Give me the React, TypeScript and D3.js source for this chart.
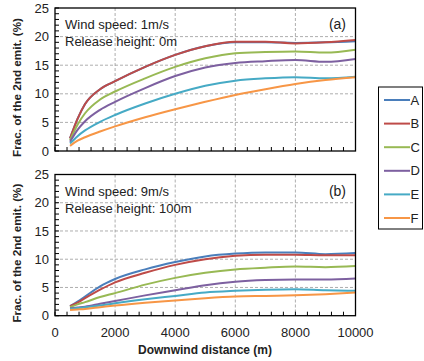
import React from 'react';
import * as d3 from 'd3';

// ---- data ----
const distances = [500, 750, 1000, 1500, 2000, 3000, 4000, 5000, 6000, 7000, 8000, 9000, 10000];
const classes = ['A', 'B', 'C', 'D', 'E', 'F'];
const colors = ['#4a7ebb', '#be4b48', '#98b954', '#7d60a0', '#46aac5', '#f79646'];

// (a) wind 1 m/s, release height 0 m
const panelA = {
  A: [2.2, 5.6, 8.2, 10.8, 12.2, 14.7, 16.8, 18.3, 19.0, 19.0, 18.9, 19.0, 19.2],
  B: [2.2, 5.6, 8.2, 10.8, 12.2, 14.7, 16.8, 18.3, 19.1, 19.1, 18.8, 19.0, 19.4],
  C: [1.9, 4.6, 6.6, 9.0, 10.4, 12.7, 14.7, 16.2, 17.1, 17.3, 17.4, 17.2, 17.7],
  D: [1.6, 3.7, 5.2, 7.2, 8.6, 11.0, 13.1, 14.6, 15.4, 15.7, 15.9, 15.6, 16.1],
  E: [1.3, 2.6, 3.6, 5.1, 6.3, 8.3, 10.0, 11.4, 12.3, 12.7, 12.9, 12.7, 13.0],
  F: [0.9, 1.8, 2.4, 3.4, 4.3, 5.9, 7.3, 8.6, 9.8, 10.8, 11.7, 12.4, 12.9],
};

// (b) wind 9 m/s, release height 100 m
const panelB = {
  A: [1.7, 2.5, 3.4, 5.2, 6.5, 8.2, 9.5, 10.5, 11.0, 11.2, 11.2, 10.9, 11.1],
  B: [1.7, 2.3, 3.1, 4.6, 5.9, 7.6, 9.0, 10.0, 10.6, 10.8, 10.8, 10.7, 10.7],
  C: [1.5, 2.0, 2.4, 3.3, 4.0, 5.5, 6.7, 7.6, 8.2, 8.5, 8.7, 8.6, 8.8],
  D: [1.3, 1.45, 1.6, 2.1, 2.6, 3.6, 4.5, 5.4, 6.0, 6.3, 6.4, 6.4, 6.6],
  E: [1.2, 1.35, 1.5, 1.8, 2.2, 2.9, 3.5, 4.1, 4.4, 4.6, 4.7, 4.5, 4.4],
  F: [1.0, 1.1, 1.2, 1.5, 1.8, 2.3, 2.7, 3.1, 3.4, 3.5, 3.6, 3.8, 4.1],
};

const xTicks = [0, 2000, 4000, 6000, 8000, 10000];
const yTicks = [0, 5, 10, 15, 20, 25];

const FONT = 'Liberation Sans, Arial, sans-serif';

const x = d3.scaleLinear().domain([0, 10000]).range([55, 355.5]);
const xMinor = d3.range(0, 10001, 400);
const yMinor = d3.range(0, 26, 1);

function Panel({ top, bottom, data, lines, tag, showXLabels }) {
  const y = d3.scaleLinear().domain([0, 25]).range([bottom, top]);
  const line = d3.line<number>()
    .x((_, i) => x(distances[i]))
    .y((d) => y(d))
    .curve(d3.curveMonotoneX);

  return (
    <g>
      {/* grid */}
      {yTicks.slice(1, -1).map((t) => (
        <line key={'gy' + t} x1={x(0)} x2={x(10000)} y1={y(t)} y2={y(t)}
          stroke="#999" strokeWidth={0.8} strokeDasharray="3,2" />
      ))}
      {xTicks.slice(1, -1).map((t) => (
        <line key={'gx' + t} x1={x(t)} x2={x(t)} y1={top} y2={bottom}
          stroke="#999" strokeWidth={0.8} strokeDasharray="3,2" />
      ))}

      {/* series */}
      {classes.map((c, i) => (
        <path key={c} d={line(data[c]) || ''} fill="none" stroke={colors[i]} strokeWidth={2} />
      ))}

      {/* frame */}
      <rect x={x(0)} y={top} width={x(10000) - x(0)} height={bottom - top}
        fill="none" stroke="#000" strokeWidth={1.3} />

      {/* minor ticks */}
      {xMinor.map((t) => (
        <line key={'mt' + t} x1={x(t)} x2={x(t)} y1={bottom} y2={bottom - 4}
          stroke="#000" strokeWidth={1} />
      ))}
      {yMinor.map((t) => (
        <line key={'my' + t} x1={x(0)} x2={x(0) + 4} y1={y(t)} y2={y(t)}
          stroke="#000" strokeWidth={1} />
      ))}

      {/* y tick labels */}
      {yTicks.map((t) => (
        <text key={'yl' + t} x={x(0) - 6} y={y(t)} dy="0.36em" textAnchor="end"
          fontSize={13} fontFamily={FONT} fill="#222">{t}</text>
      ))}

      {showXLabels && xTicks.map((t) => (
        <text key={'xl' + t} x={x(t)} y={bottom + 21} textAnchor="middle"
          fontSize={13} fontFamily={FONT} fill="#222">{t}</text>
      ))}

      {/* annotations */}
      <text x={65} y={top + 21} fontSize={13} fontFamily={FONT} fill="#222">{lines[0]}</text>
      <text x={65} y={top + 38} fontSize={13} fontFamily={FONT} fill="#222">{lines[1]}</text>
      <text x={346} y={top + 21} textAnchor="end" fontSize={14} fontFamily={FONT} fill="#222">{tag}</text>

      {/* y title */}
      <text transform={`translate(20.5,${(top + bottom) / 2 + 8}) rotate(-90)`} textAnchor="middle"
        fontSize={11.7} fontWeight="bold" fontFamily={FONT} fill="#222">
        Frac. of the 2nd emit. (%)
      </text>
    </g>
  );
}

export default function App() {
  const legendY = d3.scaleLinear().domain([0, 5]).range([100, 218]);
  return (
    <svg width={424} height={361} style={{ display: 'block', position: 'absolute', left: 0, top: 0, background: '#fff' }}>
      <Panel top={8} bottom={151} data={panelA} tag="(a)" showXLabels={false}
        lines={['Wind speed: 1m/s', 'Release height: 0m']} />
      <Panel top={174.5} bottom={315.7} data={panelB} tag="(b)" showXLabels={true}
        lines={['Wind speed: 9m/s', 'Release height: 100m']} />

      <text x={205} y={354} textAnchor="middle" fontSize={12} fontWeight="bold"
        fontFamily={FONT} fill="#222">Downwind distance (m)</text>

      {/* legend */}
      <rect x={378.5} y={87} width={44} height={142} fill="#fff" stroke="#000" strokeWidth={1} />
      {classes.map((c, i) => (
        <g key={'lg' + c}>
          <line x1={384} x2={410} y1={legendY(i)} y2={legendY(i)} stroke={colors[i]} strokeWidth={2} />
          <text x={410.5} y={legendY(i)} dy="0.36em" fontSize={13} fontFamily={FONT} fill="#222">{c}</text>
        </g>
      ))}
    </svg>
  );
}
